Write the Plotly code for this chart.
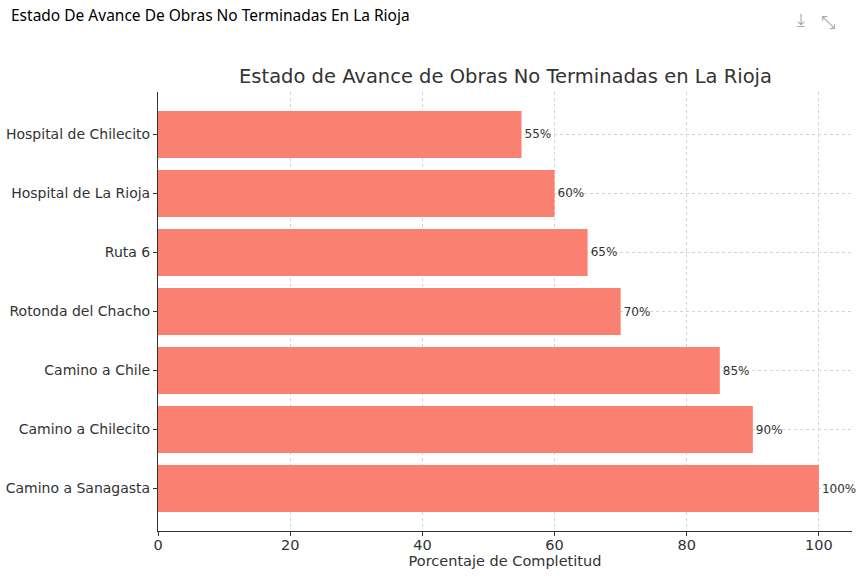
import plotly.graph_objects as go

# ── Data ──────────────────────────────────────────────────────
obras = [
    'Hospital de Chilecito',
    'Hospital de La Rioja',
    'Ruta 6',
    'Rotonda del Chacho',
    'Camino a Chile',
    'Camino a Chilecito',
    'Camino a Sanagasta',
]
avance = [55, 60, 65, 70, 85, 90, 100]
x_ticks = [0, 20, 40, 60, 80, 100]

BAR_COL = '#FA8072'
TXT_COL = '#333333'
GRID_COL = '#d4d4d4'
FONT = 'DejaVu Sans'

fig = go.Figure(go.Bar(
    x=avance, y=obras, orientation='h',
    marker=dict(color=BAR_COL, line=dict(width=0)),
    width=0.8,
    text=[f'{v}%' for v in avance],
    textposition='outside',
    textfont=dict(color=TXT_COL, size=12, family=FONT),
    cliponaxis=False,
    hoverinfo='skip',
))

fig.update_layout(
    width=864, height=578,
    paper_bgcolor='white', plot_bgcolor='white',
    margin=dict(l=158, r=12, t=92, b=47),
    showlegend=False,
    title=dict(
        text='Estado De Avance De Obras No Terminadas En La Rioja',
        font=dict(family='Noto Sans', size=15.5, color='#000000'),
        xref='container', yref='container', pad=dict(l=0, t=0, b=0, r=0),
        x=11 / 864, xanchor='left', y=1 - 16 / 578, yanchor='middle',
    ),
    font=dict(family=FONT, color=TXT_COL),
    xaxis=dict(
        range=[0, 105], tickvals=x_ticks, automargin=False,
        showgrid=True, gridcolor=GRID_COL, griddash='3px,3px', gridwidth=1,
        zeroline=False,
        showline=True, linecolor=TXT_COL, linewidth=1,
        ticks='outside', ticklen=4, tickcolor=TXT_COL, ticklabelstandoff=-3,
        tickfont=dict(size=14.5, color=TXT_COL),
        title=dict(text='Porcentaje de Completitud',
                   font=dict(size=14.5, color=TXT_COL), standoff=0),
    ),
    yaxis=dict(
        categoryorder='array', categoryarray=obras,
        range=[len(obras) - 0.28, -0.72], automargin=False,
        showgrid=True, gridcolor=GRID_COL, griddash='3px,3px', gridwidth=1,
        showline=True, linecolor=TXT_COL, linewidth=1,
        ticks='outside', ticklen=4, tickcolor=TXT_COL,
        tickfont=dict(size=14, color=TXT_COL),
    ),
)

fig.add_annotation(
    text='Estado de Avance de Obras No Terminadas en La Rioja',
    xref='paper', yref='paper', x=0.5, y=1 + 15 / 439,
    xanchor='center', yanchor='middle', showarrow=False,
    font=dict(family=FONT, size=19.5, color=TXT_COL),
)

# toolbar icons of the chat viewer
fig.add_annotation(text='⤓', xref='paper', yref='paper',
                   x=(807 - 158) / 694, y=1 + (92 - 15) / 439, yshift=8,
                   showarrow=False, font=dict(size=18, color='#a8a8a8'))
fig.add_annotation(text='⤡', xref='paper', yref='paper',
                   x=(837 - 158) / 694, y=1 + (92 - 15) / 439, yshift=6,
                   showarrow=False, font=dict(size=18, color='#a8a8a8'))

fig.write_html('out.html', config=dict(displayModeBar=False),
               post_script="document.body.style.margin='0';")
